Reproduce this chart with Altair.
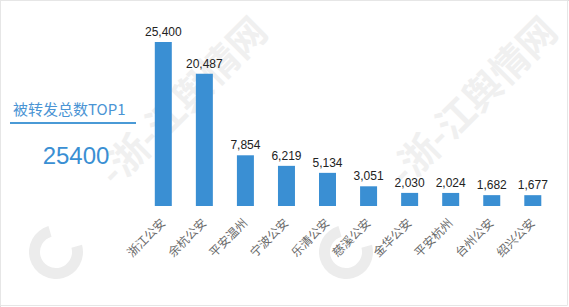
import altair as alt
import pandas as pd

categories = ["浙江公安", "余杭公安", "平安温州", "宁波公安", "乐清公安",
              "慈溪公安", "金华公安", "平安杭州", "台州公安", "绍兴公安"]
values = [25400, 20487, 7854, 6219, 5134, 3051, 2030, 2024, 1682, 1677]
panel_title = "被转发总数TOP1"
panel_value = "25400"
watermark = "-浙-江舆情网"

df = pd.DataFrame({"cat": categories, "val": values})

BLUE = "#3a8fd3"
CJK = "Noto Sans CJK SC"
LAT = "Liberation Sans"

xs = alt.Scale(type="point", domain=categories, range=[163.3, 532.8], padding=0)
ys = alt.Scale(domain=[0, 25400], range=[206, 42])

base = alt.Chart(df)

# watermarks (two tiles)
wm_layers = []
for off in [0, 290]:
    wm_layers.append(
        alt.Chart(df.head(1)).mark_text(
            text=watermark, angle=315, align="right", baseline="middle",
            font=CJK, fontSize=38, fontWeight="bold", color="#f0f0f0"
        ).encode(x=alt.value(262 + off), y=alt.value(26))
    )
    wm_layers.append(
        alt.Chart(df.head(1)).mark_arc(
            radius=27, radius2=16, theta=1.3, theta2=6.0, color="#ececec"
        ).encode(x=alt.value(56 + off), y=alt.value(252))
    )

bars = base.mark_bar(width=17, color=BLUE).encode(
    x=alt.X("cat:N", scale=xs, axis=None, sort=categories),
    y=alt.Y("val:Q", scale=ys, axis=None),
)

vlabels = base.mark_text(
    baseline="alphabetic", align="center", dy=-6, font=LAT, fontSize=12, color="#222222"
).encode(
    x=alt.X("cat:N", scale=xs, axis=None, sort=categories),
    y=alt.Y("val:Q", scale=ys, axis=None),
    text=alt.Text("val:Q", format=","),
)

xlabels = base.mark_text(
    angle=315, align="right", baseline="middle", font=CJK, fontSize=12, color="#6a6a6a"
).encode(
    x=alt.X("cat:N", scale=xs, axis=None, sort=categories),
    y=alt.value(221),
    text="cat:N",
)

title_txt = alt.Chart(df.head(1)).mark_text(
    text=panel_title, align="left", baseline="middle", font=CJK, fontSize=15, color="#4a94d4"
).encode(x=alt.value(13), y=alt.value(110))

underline = alt.Chart(df.head(1)).mark_rule(color="#4a9ad6", strokeWidth=2).encode(
    x=alt.value(10), x2=alt.value(136), y=alt.value(123)
)

big_num = alt.Chart(df.head(1)).mark_text(
    text=panel_value, align="center", baseline="alphabetic", font=LAT, fontSize=24, color=BLUE
).encode(x=alt.value(76), y=alt.value(164))

frame = alt.Chart(df.head(1)).mark_rect(fill=None, stroke="#e6e6e6", strokeWidth=1).encode(
    x=alt.value(0.5), x2=alt.value(567.5), y=alt.value(0.5), y2=alt.value(305.5)
)

chart = alt.layer(
    *wm_layers, bars, vlabels, xlabels, title_txt, underline, big_num, frame
).properties(
    width=569, height=307, autosize=alt.AutoSizeParams(type="none"), padding=0
).configure_view(stroke=None).configure(background="white")

chart.save("out.html", embed_options={"renderer": "svg", "actions": False})
